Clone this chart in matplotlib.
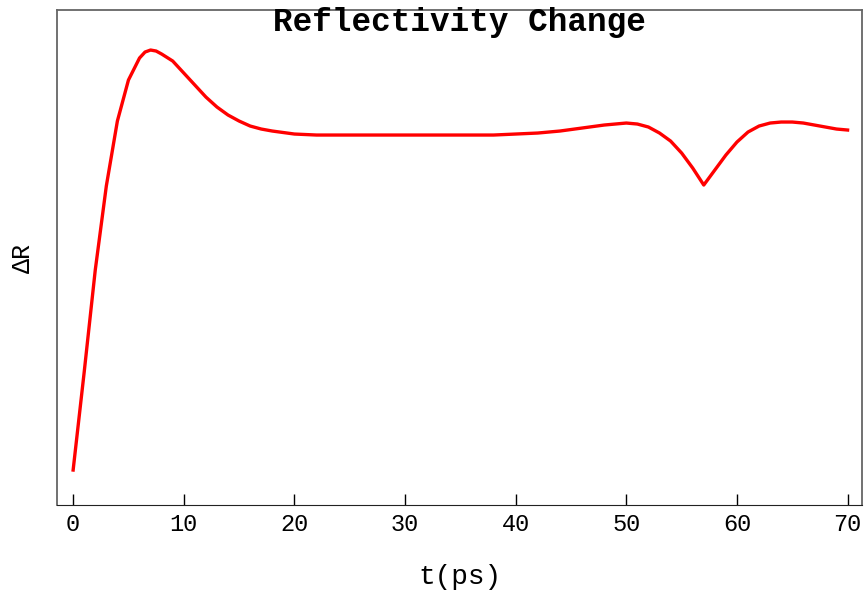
import matplotlib
matplotlib.use("Agg")
import matplotlib.pyplot as plt

# time axis (ps) and reflectivity change (arbitrary units)
t = [0, 1, 2, 3, 4, 5, 6, 6.5, 7, 7.5, 8, 9, 10, 11, 12, 13, 14, 15, 16, 17,
     18, 20, 22, 25, 30, 35, 38, 40, 42, 44, 46, 48, 50, 51, 52, 53, 54, 55,
     56, 57, 58, 59, 60, 61, 62, 63, 64, 65, 66, 67, 68, 69, 70]
dR = [0.35, 1.33, 2.35, 3.19, 3.84, 4.25, 4.47, 4.53, 4.55, 4.54, 4.51, 4.44,
      4.32, 4.20, 4.08, 3.98, 3.90, 3.84, 3.79, 3.76, 3.74, 3.71, 3.70, 3.70,
      3.70, 3.70, 3.70, 3.71, 3.72, 3.74, 3.77, 3.80, 3.82, 3.81, 3.78, 3.72,
      3.64, 3.52, 3.37, 3.20, 3.35, 3.50, 3.63, 3.73, 3.79, 3.82, 3.83, 3.83,
      3.82, 3.80, 3.78, 3.76, 3.75]
xticks = [0, 10, 20, 30, 40, 50, 60, 70]

plt.rcParams['font.family'] = ['Liberation Mono', 'DejaVu Sans']

fig = plt.figure(figsize=(8.65, 5.9), dpi=100)
ax = fig.add_axes([0.066, 0.144, 0.9305, 0.839])

ax.plot(t, dR, color="red", linewidth=2.4, solid_joinstyle="round")

ax.set_xlim(-1.45, 71.3)
ax.set_ylim(0, 4.95)
ax.set_xticks(xticks)
ax.set_yticks([])
ax.tick_params(axis="x", direction="in", length=8, width=1, labelsize=17, pad=6)

for side in ["left", "top", "right"]:
    ax.spines[side].set_color("#666666")
    ax.spines[side].set_linewidth(1.3)
ax.spines["bottom"].set_color("#222222")

ax.text(0.5, 0.975, "Reflectivity Change", transform=ax.transAxes,
        ha="center", va="center", fontsize=23.5, fontweight="bold")
ax.set_xlabel("t(ps)", fontsize=20)
ax.xaxis.set_label_coords(0.5, -0.145)
ax.xaxis.label.set_va("center")
ax.set_ylabel("ΔR", fontsize=18)
ax.yaxis.set_label_coords(-0.042, 0.5)
ax.yaxis.label.set_va("center")

fig.savefig("out.png", dpi=100)
